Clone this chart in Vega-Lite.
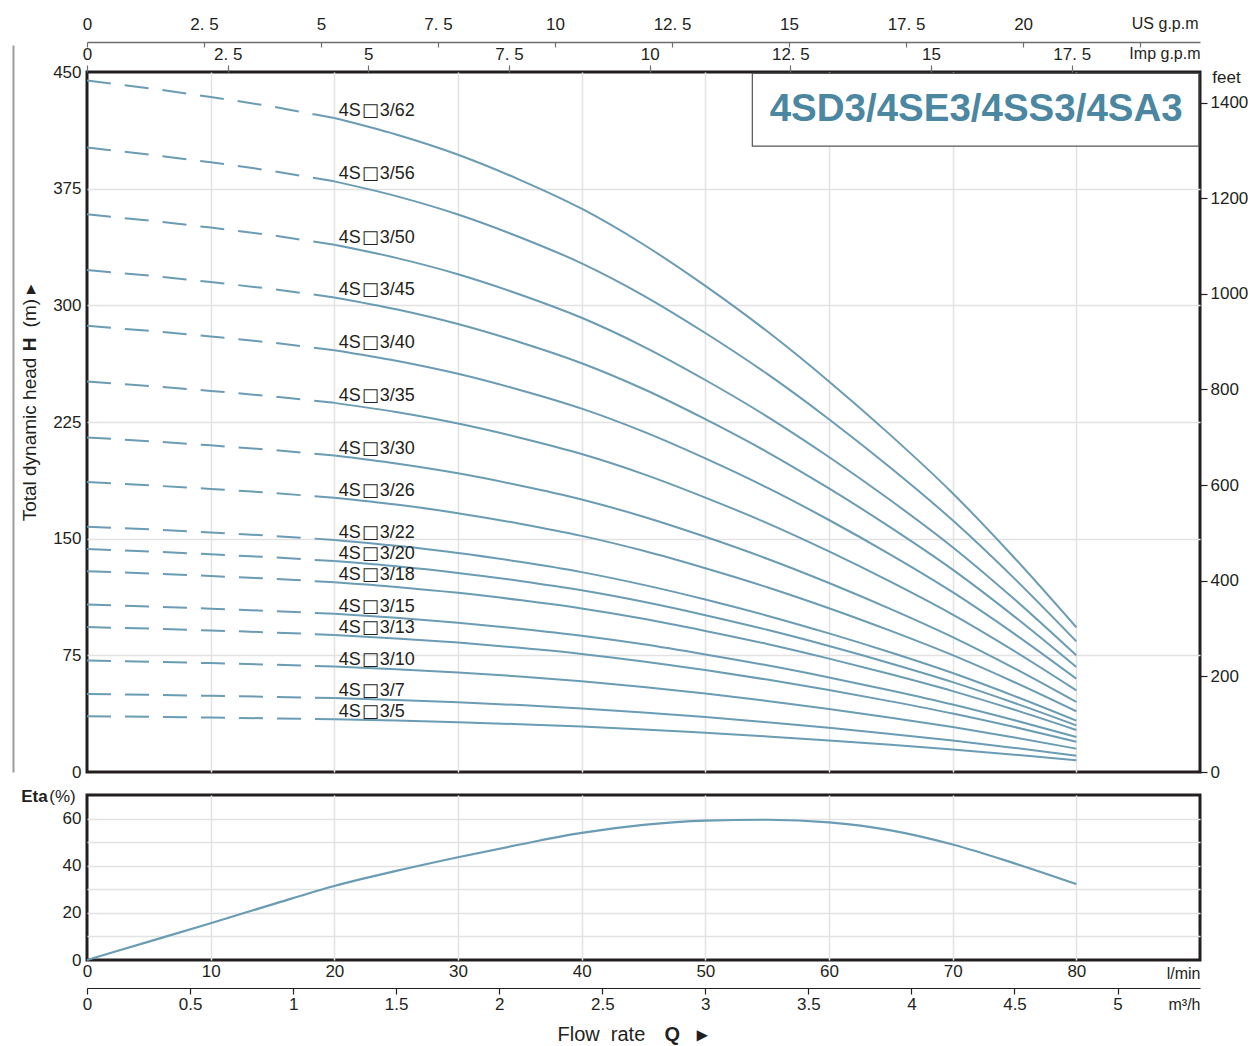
{
"$schema": "https://vega.github.io/schema/vega-lite/v6.json",
"padding": {"left": 11, "top": 13, "right": 4, "bottom": 4},
"background": "white",
"config": {
  "font": "Liberation Sans",
  "view": {"stroke": "#231f20", "strokeWidth": 3},
  "axis": {"labelFont": "Liberation Sans", "titleFont": "Liberation Sans", "labelFontSize": 17, "labelColor": "#231f20", "titleColor": "#231f20", "titleFontWeight": "normal", "titleFontSize": 17, "gridColor": "#e2e2e2", "gridWidth": 1.5, "domainColor": "#231f20", "tickColor": "#231f20", "labelFlush": false, "labelOverlap": false, "labelBound": false},
  "text": {"font": "Liberation Sans"}
},
"datasets": {
  "dummy": [{"v": 0}],
  "box": [{"Q": 53.8, "Q2": 89.9, "H": 402.4, "H2": 449.1}],
  "title": [{"Q": 71.9, "H": 426.5, "t": "4SD3/4SE3/4SS3/4SA3"}],
  "labels": [
    {"model": "4S□3/62", "num": "3/62", "Q": 20, "H": 420.4},
    {"model": "4S□3/56", "num": "3/56", "Q": 20, "H": 379.7},
    {"model": "4S□3/50", "num": "3/50", "Q": 20, "H": 339.0},
    {"model": "4S□3/45", "num": "3/45", "Q": 20, "H": 305.1},
    {"model": "4S□3/40", "num": "3/40", "Q": 20, "H": 271.2},
    {"model": "4S□3/35", "num": "3/35", "Q": 20, "H": 237.3},
    {"model": "4S□3/30", "num": "3/30", "Q": 20, "H": 203.4},
    {"model": "4S□3/26", "num": "3/26", "Q": 20, "H": 176.3},
    {"model": "4S□3/22", "num": "3/22", "Q": 20, "H": 149.2},
    {"model": "4S□3/20", "num": "3/20", "Q": 20, "H": 135.6},
    {"model": "4S□3/18", "num": "3/18", "Q": 20, "H": 122.0},
    {"model": "4S□3/15", "num": "3/15", "Q": 20, "H": 101.7},
    {"model": "4S□3/13", "num": "3/13", "Q": 20, "H": 88.1},
    {"model": "4S□3/10", "num": "3/10", "Q": 20, "H": 67.8},
    {"model": "4S□3/7", "num": "3/7", "Q": 20, "H": 47.5},
    {"model": "4S□3/5", "num": "3/5", "Q": 20, "H": 33.9}
  ],
  "eta": [
    {"Q": 0, "eta": 0}, {"Q": 5, "eta": 7.8}, {"Q": 10, "eta": 15.6}, {"Q": 15, "eta": 23.6}, {"Q": 20, "eta": 31.4}, {"Q": 25, "eta": 37.8}, {"Q": 30, "eta": 43.6}, {"Q": 35, "eta": 49.0}, {"Q": 40, "eta": 53.9}, {"Q": 45, "eta": 57.3}, {"Q": 50, "eta": 59.1}, {"Q": 55, "eta": 59.5}, {"Q": 60, "eta": 58.4}, {"Q": 65, "eta": 55.0}, {"Q": 70, "eta": 49.0}, {"Q": 75, "eta": 41.0}, {"Q": 80, "eta": 32.2}
  ],
  "pump": [
    {"n":62,"Q":0,"H":444.5},{"n":62,"Q":5,"H":439.6},{"n":62,"Q":10,"H":434.0},{"n":62,"Q":15,"H":427.8},{"n":62,"Q":20,"H":420.4},{"n":62,"Q":25,"H":409.8},{"n":62,"Q":30,"H":396.8},{"n":62,"Q":35,"H":380.7},{"n":62,"Q":40,"H":362.1},{"n":62,"Q":45,"H":339.1},{"n":62,"Q":50,"H":312.5},{"n":62,"Q":55,"H":283.3},{"n":62,"Q":60,"H":251.1},{"n":62,"Q":65,"H":216.4},{"n":62,"Q":70,"H":179.2},{"n":62,"Q":75,"H":137.6},{"n":62,"Q":80,"H":93.0},
    {"n":56,"Q":0,"H":401.5},{"n":56,"Q":5,"H":397.0},{"n":56,"Q":10,"H":392.0},{"n":56,"Q":15,"H":386.4},{"n":56,"Q":20,"H":379.7},{"n":56,"Q":25,"H":370.2},{"n":56,"Q":30,"H":358.4},{"n":56,"Q":35,"H":343.8},{"n":56,"Q":40,"H":327.0},{"n":56,"Q":45,"H":306.3},{"n":56,"Q":50,"H":282.2},{"n":56,"Q":55,"H":255.9},{"n":56,"Q":60,"H":226.8},{"n":56,"Q":65,"H":195.4},{"n":56,"Q":70,"H":161.8},{"n":56,"Q":75,"H":124.3},{"n":56,"Q":80,"H":84.0},
    {"n":50,"Q":0,"H":358.5},{"n":50,"Q":5,"H":354.5},{"n":50,"Q":10,"H":350.0},{"n":50,"Q":15,"H":345.0},{"n":50,"Q":20,"H":339.0},{"n":50,"Q":25,"H":330.5},{"n":50,"Q":30,"H":320.0},{"n":50,"Q":35,"H":307.0},{"n":50,"Q":40,"H":292.0},{"n":50,"Q":45,"H":273.5},{"n":50,"Q":50,"H":252.0},{"n":50,"Q":55,"H":228.5},{"n":50,"Q":60,"H":202.5},{"n":50,"Q":65,"H":174.5},{"n":50,"Q":70,"H":144.5},{"n":50,"Q":75,"H":111.0},{"n":50,"Q":80,"H":75.0},
    {"n":45,"Q":0,"H":322.7},{"n":45,"Q":5,"H":319.1},{"n":45,"Q":10,"H":315.0},{"n":45,"Q":15,"H":310.5},{"n":45,"Q":20,"H":305.1},{"n":45,"Q":25,"H":297.5},{"n":45,"Q":30,"H":288.0},{"n":45,"Q":35,"H":276.3},{"n":45,"Q":40,"H":262.8},{"n":45,"Q":45,"H":246.2},{"n":45,"Q":50,"H":226.8},{"n":45,"Q":55,"H":205.7},{"n":45,"Q":60,"H":182.3},{"n":45,"Q":65,"H":157.1},{"n":45,"Q":70,"H":130.1},{"n":45,"Q":75,"H":99.9},{"n":45,"Q":80,"H":67.5},
    {"n":40,"Q":0,"H":286.8},{"n":40,"Q":5,"H":283.6},{"n":40,"Q":10,"H":280.0},{"n":40,"Q":15,"H":276.0},{"n":40,"Q":20,"H":271.2},{"n":40,"Q":25,"H":264.4},{"n":40,"Q":30,"H":256.0},{"n":40,"Q":35,"H":245.6},{"n":40,"Q":40,"H":233.6},{"n":40,"Q":45,"H":218.8},{"n":40,"Q":50,"H":201.6},{"n":40,"Q":55,"H":182.8},{"n":40,"Q":60,"H":162.0},{"n":40,"Q":65,"H":139.6},{"n":40,"Q":70,"H":115.6},{"n":40,"Q":75,"H":88.8},{"n":40,"Q":80,"H":60.0},
    {"n":35,"Q":0,"H":251.0},{"n":35,"Q":5,"H":248.2},{"n":35,"Q":10,"H":245.0},{"n":35,"Q":15,"H":241.5},{"n":35,"Q":20,"H":237.3},{"n":35,"Q":25,"H":231.4},{"n":35,"Q":30,"H":224.0},{"n":35,"Q":35,"H":214.9},{"n":35,"Q":40,"H":204.4},{"n":35,"Q":45,"H":191.5},{"n":35,"Q":50,"H":176.4},{"n":35,"Q":55,"H":160.0},{"n":35,"Q":60,"H":141.8},{"n":35,"Q":65,"H":122.2},{"n":35,"Q":70,"H":101.2},{"n":35,"Q":75,"H":77.7},{"n":35,"Q":80,"H":52.5},
    {"n":30,"Q":0,"H":215.1},{"n":30,"Q":5,"H":212.7},{"n":30,"Q":10,"H":210.0},{"n":30,"Q":15,"H":207.0},{"n":30,"Q":20,"H":203.4},{"n":30,"Q":25,"H":198.3},{"n":30,"Q":30,"H":192.0},{"n":30,"Q":35,"H":184.2},{"n":30,"Q":40,"H":175.2},{"n":30,"Q":45,"H":164.1},{"n":30,"Q":50,"H":151.2},{"n":30,"Q":55,"H":137.1},{"n":30,"Q":60,"H":121.5},{"n":30,"Q":65,"H":104.7},{"n":30,"Q":70,"H":86.7},{"n":30,"Q":75,"H":66.6},{"n":30,"Q":80,"H":45.0},
    {"n":26,"Q":0,"H":186.4},{"n":26,"Q":5,"H":184.3},{"n":26,"Q":10,"H":182.0},{"n":26,"Q":15,"H":179.4},{"n":26,"Q":20,"H":176.3},{"n":26,"Q":25,"H":171.9},{"n":26,"Q":30,"H":166.4},{"n":26,"Q":35,"H":159.6},{"n":26,"Q":40,"H":151.8},{"n":26,"Q":45,"H":142.2},{"n":26,"Q":50,"H":131.0},{"n":26,"Q":55,"H":118.8},{"n":26,"Q":60,"H":105.3},{"n":26,"Q":65,"H":90.7},{"n":26,"Q":70,"H":75.1},{"n":26,"Q":75,"H":57.7},{"n":26,"Q":80,"H":39.0},
    {"n":22,"Q":0,"H":157.7},{"n":22,"Q":5,"H":156.0},{"n":22,"Q":10,"H":154.0},{"n":22,"Q":15,"H":151.8},{"n":22,"Q":20,"H":149.2},{"n":22,"Q":25,"H":145.4},{"n":22,"Q":30,"H":140.8},{"n":22,"Q":35,"H":135.1},{"n":22,"Q":40,"H":128.5},{"n":22,"Q":45,"H":120.3},{"n":22,"Q":50,"H":110.9},{"n":22,"Q":55,"H":100.5},{"n":22,"Q":60,"H":89.1},{"n":22,"Q":65,"H":76.8},{"n":22,"Q":70,"H":63.6},{"n":22,"Q":75,"H":48.8},{"n":22,"Q":80,"H":33.0},
    {"n":20,"Q":0,"H":143.4},{"n":20,"Q":5,"H":141.8},{"n":20,"Q":10,"H":140.0},{"n":20,"Q":15,"H":138.0},{"n":20,"Q":20,"H":135.6},{"n":20,"Q":25,"H":132.2},{"n":20,"Q":30,"H":128.0},{"n":20,"Q":35,"H":122.8},{"n":20,"Q":40,"H":116.8},{"n":20,"Q":45,"H":109.4},{"n":20,"Q":50,"H":100.8},{"n":20,"Q":55,"H":91.4},{"n":20,"Q":60,"H":81.0},{"n":20,"Q":65,"H":69.8},{"n":20,"Q":70,"H":57.8},{"n":20,"Q":75,"H":44.4},{"n":20,"Q":80,"H":30.0},
    {"n":18,"Q":0,"H":129.1},{"n":18,"Q":5,"H":127.6},{"n":18,"Q":10,"H":126.0},{"n":18,"Q":15,"H":124.2},{"n":18,"Q":20,"H":122.0},{"n":18,"Q":25,"H":119.0},{"n":18,"Q":30,"H":115.2},{"n":18,"Q":35,"H":110.5},{"n":18,"Q":40,"H":105.1},{"n":18,"Q":45,"H":98.5},{"n":18,"Q":50,"H":90.7},{"n":18,"Q":55,"H":82.3},{"n":18,"Q":60,"H":72.9},{"n":18,"Q":65,"H":62.8},{"n":18,"Q":70,"H":52.0},{"n":18,"Q":75,"H":40.0},{"n":18,"Q":80,"H":27.0},
    {"n":15,"Q":0,"H":107.6},{"n":15,"Q":5,"H":106.4},{"n":15,"Q":10,"H":105.0},{"n":15,"Q":15,"H":103.5},{"n":15,"Q":20,"H":101.7},{"n":15,"Q":25,"H":99.2},{"n":15,"Q":30,"H":96.0},{"n":15,"Q":35,"H":92.1},{"n":15,"Q":40,"H":87.6},{"n":15,"Q":45,"H":82.1},{"n":15,"Q":50,"H":75.6},{"n":15,"Q":55,"H":68.6},{"n":15,"Q":60,"H":60.8},{"n":15,"Q":65,"H":52.4},{"n":15,"Q":70,"H":43.4},{"n":15,"Q":75,"H":33.3},{"n":15,"Q":80,"H":22.5},
    {"n":13,"Q":0,"H":93.2},{"n":13,"Q":5,"H":92.2},{"n":13,"Q":10,"H":91.0},{"n":13,"Q":15,"H":89.7},{"n":13,"Q":20,"H":88.1},{"n":13,"Q":25,"H":85.9},{"n":13,"Q":30,"H":83.2},{"n":13,"Q":35,"H":79.8},{"n":13,"Q":40,"H":75.9},{"n":13,"Q":45,"H":71.1},{"n":13,"Q":50,"H":65.5},{"n":13,"Q":55,"H":59.4},{"n":13,"Q":60,"H":52.7},{"n":13,"Q":65,"H":45.4},{"n":13,"Q":70,"H":37.6},{"n":13,"Q":75,"H":28.9},{"n":13,"Q":80,"H":19.5},
    {"n":10,"Q":0,"H":71.7},{"n":10,"Q":5,"H":70.9},{"n":10,"Q":10,"H":70.0},{"n":10,"Q":15,"H":69.0},{"n":10,"Q":20,"H":67.8},{"n":10,"Q":25,"H":66.1},{"n":10,"Q":30,"H":64.0},{"n":10,"Q":35,"H":61.4},{"n":10,"Q":40,"H":58.4},{"n":10,"Q":45,"H":54.7},{"n":10,"Q":50,"H":50.4},{"n":10,"Q":55,"H":45.7},{"n":10,"Q":60,"H":40.5},{"n":10,"Q":65,"H":34.9},{"n":10,"Q":70,"H":28.9},{"n":10,"Q":75,"H":22.2},{"n":10,"Q":80,"H":15.0},
    {"n":7,"Q":0,"H":50.2},{"n":7,"Q":5,"H":49.6},{"n":7,"Q":10,"H":49.0},{"n":7,"Q":15,"H":48.3},{"n":7,"Q":20,"H":47.5},{"n":7,"Q":25,"H":46.3},{"n":7,"Q":30,"H":44.8},{"n":7,"Q":35,"H":43.0},{"n":7,"Q":40,"H":40.9},{"n":7,"Q":45,"H":38.3},{"n":7,"Q":50,"H":35.3},{"n":7,"Q":55,"H":32.0},{"n":7,"Q":60,"H":28.4},{"n":7,"Q":65,"H":24.4},{"n":7,"Q":70,"H":20.2},{"n":7,"Q":75,"H":15.5},{"n":7,"Q":80,"H":10.5},
    {"n":5,"Q":0,"H":35.9},{"n":5,"Q":5,"H":35.5},{"n":5,"Q":10,"H":35.0},{"n":5,"Q":15,"H":34.5},{"n":5,"Q":20,"H":33.9},{"n":5,"Q":25,"H":33.1},{"n":5,"Q":30,"H":32.0},{"n":5,"Q":35,"H":30.7},{"n":5,"Q":40,"H":29.2},{"n":5,"Q":45,"H":27.4},{"n":5,"Q":50,"H":25.2},{"n":5,"Q":55,"H":22.9},{"n":5,"Q":60,"H":20.3},{"n":5,"Q":65,"H":17.5},{"n":5,"Q":70,"H":14.5},{"n":5,"Q":75,"H":11.1},{"n":5,"Q":80,"H":7.5}
  ]
},
"spacing": 23,
"bounds": "flush",
"vconcat": [
  {
    "width": 1113,
    "height": 700,
    "layer": [
      {
        "data": {"name": "box"},
        "mark": {"type": "rect", "fill": "white", "stroke": "#555555", "strokeWidth": 1.2},
        "encoding": {
          "x": {"field": "Q", "type": "quantitative", "scale": {"domain": [0, 90], "nice": false},
                "axis": {"orient": "bottom", "values": [10, 20, 30, 40, 50, 60, 70, 80], "grid": true, "labels": false, "ticks": false, "domain": false, "title": null}},
          "x2": {"field": "Q2"},
          "y": {"field": "H", "type": "quantitative", "scale": {"domain": [0, 450], "nice": false},
                "axis": {"values": [0, 75, 150, 225, 300, 375, 450], "grid": false, "ticks": false, "domain": false, "labelPadding": 6, "title": "Total dynamic head", "titleFontSize": 19, "titleX": -58, "titleY": 367, "titleAngle": -90, "titleAlign": "center", "titleBaseline": "middle"}},
          "y2": {"field": "H2"}
        }
      },
      {
        "data": {"name": "title"},
        "mark": {"type": "text", "fontSize": 38.5, "fontWeight": "bold", "color": "#4b87a1", "align": "center", "baseline": "middle"},
        "encoding": {
          "x": {"field": "Q", "type": "quantitative", "scale": {"domain": [0, 90], "nice": false}, "axis": null},
          "y": {"field": "H", "type": "quantitative", "scale": {"domain": [0, 450], "nice": false}, "axis": null},
          "text": {"field": "t"}
        }
      },
      {
        "data": {"name": "pump"},
        "transform": [{"filter": "datum.Q <= 20"}],
        "mark": {"type": "line", "strokeDash": [24, 14], "strokeWidth": 2, "color": "#6a9cb4"},
        "encoding": {
          "x": {"field": "Q", "type": "quantitative", "scale": {"domain": [0, 90], "nice": false}, "axis": null},
          "y": {"field": "H", "type": "quantitative", "scale": {"domain": [0, 450], "nice": false}, "axis": null},
          "detail": {"field": "n", "type": "nominal"}
        }
      },
      {
        "data": {"name": "pump"},
        "transform": [{"filter": "datum.Q >= 20"}],
        "mark": {"type": "line", "interpolate": "monotone", "strokeWidth": 2, "color": "#6a9cb4"},
        "encoding": {
          "x": {"field": "Q", "type": "quantitative", "scale": {"domain": [0, 90], "nice": false}, "axis": null},
          "y": {"field": "H", "type": "quantitative", "scale": {"domain": [0, 450], "nice": false}, "axis": null},
          "detail": {"field": "n", "type": "nominal"}
        }
      },
      {
        "data": {"name": "labels"},
        "mark": {"type": "text", "text": "4S", "align": "left", "baseline": "alphabetic", "dx": 4.5, "dy": -2, "fontSize": 18, "color": "#231f20"},
        "encoding": {
          "x": {"field": "Q", "type": "quantitative", "scale": {"domain": [0, 90], "nice": false}, "axis": null},
          "y": {"field": "H", "type": "quantitative", "scale": {"domain": [0, 450], "nice": false}, "axis": null}
        }
      },
      {
        "data": {"name": "labels"},
        "mark": {"type": "text", "text": "□", "font": "DejaVu Sans", "align": "left", "baseline": "alphabetic", "dx": 27.5, "dy": -2, "fontSize": 18, "color": "#231f20"},
        "encoding": {
          "x": {"field": "Q", "type": "quantitative", "scale": {"domain": [0, 90], "nice": false}, "axis": null},
          "y": {"field": "H", "type": "quantitative", "scale": {"domain": [0, 450], "nice": false}, "axis": null}
        }
      },
      {
        "data": {"name": "labels"},
        "mark": {"type": "text", "align": "left", "baseline": "alphabetic", "dx": 45.5, "dy": -2, "fontSize": 18, "color": "#231f20"},
        "encoding": {
          "x": {"field": "Q", "type": "quantitative", "scale": {"domain": [0, 90], "nice": false}, "axis": null},
          "y": {"field": "H", "type": "quantitative", "scale": {"domain": [0, 450], "nice": false}, "axis": null},
          "text": {"field": "num"}
        }
      },
      {
        "data": {"name": "dummy"},
        "mark": {"type": "point", "opacity": 0},
        "encoding": {
          "x": {"field": "v", "type": "quantitative", "scale": {"domain": [0, 23.78], "nice": false},
                "axis": {"orient": "top", "offset": 30, "values": [0, 2.5, 5, 7.5, 10, 12.5, 15, 17.5, 20, 22.5], "grid": false, "domainColor": "#6d6e70", "domainWidth": 1.5, "tickColor": "#6d6e70", "tickWidth": 1.2, "tickSize": -5, "labelPadding": 14, "labelExpr": "datum.value == 22.5 ? '' : replace(format(datum.value, '~g'), '.', '. ')", "title": "US g.p.m", "titleFontSize": 16, "titleX": 1111, "titleY": -19, "titleAlign": "right", "titleBaseline": "middle", "titleAngle": 0}},
          "y": {"field": "v", "type": "quantitative", "scale": {"domain": [0, 1]}, "axis": null}
        }
      },
      {
        "data": {"name": "dummy"},
        "mark": {"type": "point", "opacity": 0},
        "encoding": {
          "x": {"field": "v", "type": "quantitative", "scale": {"domain": [0, 19.78], "nice": false},
                "axis": {"orient": "top", "offset": 0, "values": [0, 2.5, 5, 7.5, 10, 12.5, 15, 17.5], "grid": false, "domain": false, "tickColor": "#6d6e70", "tickWidth": 1.2, "tickSize": 7, "labelPadding": 2, "labelExpr": "replace(format(datum.value, '~g'), '.', '. ')", "title": "Imp g.p.m", "titleFontSize": 16, "titleX": 1113, "titleY": -19, "titleAlign": "right", "titleBaseline": "middle", "titleAngle": 0}},
          "y": {"field": "v", "type": "quantitative", "scale": {"domain": [0, 1]}, "axis": null}
        }
      },
      {
        "data": {"name": "dummy"},
        "mark": {"type": "point", "opacity": 0},
        "encoding": {
          "x": {"field": "v", "type": "quantitative", "scale": {"domain": [0, 1]}, "axis": null},
          "y": {"field": "v", "type": "quantitative", "scale": {"domain": [0, 1464], "nice": false},
                "axis": {"orient": "right", "values": [0, 200, 400, 600, 800, 1000, 1200, 1400], "format": "d", "grid": false, "domain": false, "tickSize": 7, "tickWidth": 1.2, "labelPadding": 3, "title": "feet", "titleFontSize": 17, "titleX": 26, "titleY": 5, "titleAngle": 0, "titleAlign": "center", "titleBaseline": "middle"}}
        }
      },
      {
        "data": {"name": "dummy"},
        "mark": {"type": "point", "opacity": 0},
        "encoding": {
          "x": {"field": "v", "type": "quantitative", "scale": {"domain": [0, 1]}, "axis": null},
          "y": {"field": "v", "type": "quantitative", "scale": {"domain": [0, 1], "nice": false, "range": [700, -27]},
                "axis": {"orient": "left", "offset": 74, "domainColor": "#9d9d9d", "domainWidth": 2, "labels": false, "ticks": false, "grid": false, "title": "H", "titleFontWeight": "bold", "titleFontSize": 19, "titleX": 16, "titleY": 272, "titleAngle": -90, "titleAlign": "center", "titleBaseline": "middle"}}
        }
      },
      {
        "data": {"name": "dummy"},
        "mark": {"type": "point", "opacity": 0},
        "encoding": {
          "x": {"field": "v", "type": "quantitative", "scale": {"domain": [0, 1]}, "axis": null},
          "y": {"field": "v", "type": "quantitative", "scale": {"domain": [0, 450], "nice": false},
                "axis": {"orient": "left", "values": [75, 150, 225, 300, 375], "grid": true, "labels": false, "ticks": false, "domain": false, "title": "(m) ▸", "titleFontSize": 19, "titleX": -58, "titleY": 233, "titleAngle": -90, "titleAlign": "center", "titleBaseline": "middle"}}
        }
      }
    ],
    "resolve": {"scale": {"x": "independent", "y": "independent"}}
  },
  {
    "width": 1113,
    "height": 165,
    "layer": [
      {
        "data": {"name": "eta"},
        "mark": {"type": "line", "interpolate": "monotone", "strokeWidth": 2.2, "color": "#6a9cb4"},
        "encoding": {
          "x": {"field": "Q", "type": "quantitative", "scale": {"domain": [0, 90], "nice": false},
                "axis": {"values": [0, 10, 20, 30, 40, 50, 60, 70, 80], "grid": false, "ticks": false, "domain": false, "labelPadding": 3, "title": "l/min", "titleFontSize": 16, "titleX": 1113, "titleY": 13, "titleAlign": "right", "titleBaseline": "middle", "titleAngle": 0}},
          "y": {"field": "eta", "type": "quantitative", "scale": {"domain": [0, 70], "nice": false},
                "axis": {"values": [0, 20, 40, 60], "grid": false, "ticks": false, "domain": false, "labelPadding": 6, "title": "Eta", "titleFontWeight": "bold", "titleFontSize": 17, "titleX": -53, "titleY": 1, "titleAngle": 0, "titleAlign": "center", "titleBaseline": "middle"}}
        }
      },
      {
        "data": {"name": "dummy"},
        "mark": {"type": "point", "opacity": 0},
        "encoding": {
          "x": {"field": "v", "type": "quantitative", "scale": {"domain": [0, 5.4], "nice": false},
                "axis": {"orient": "bottom", "offset": 28, "values": [0, 0.5, 1, 1.5, 2, 2.5, 3, 3.5, 4, 4.5, 5], "grid": false, "domainColor": "#231f20", "domainWidth": 1.2, "tickSize": 6, "tickWidth": 1.2, "labelPadding": 2, "labelExpr": "format(datum.value, '~g')", "title": "m³/h", "titleFontSize": 16, "titleX": 1113, "titleY": 16, "titleAlign": "right", "titleBaseline": "middle", "titleAngle": 0}},
          "y": {"field": "v", "type": "quantitative", "scale": {"domain": [0, 1]}, "axis": null}
        }
      },
      {
        "data": {"name": "dummy"},
        "mark": {"type": "point", "opacity": 0},
        "encoding": {
          "x": {"field": "v", "type": "quantitative", "scale": {"domain": [0, 90], "nice": false},
                "axis": {"orient": "bottom", "values": [10, 20, 30, 40, 50, 60, 70, 80], "grid": true, "labels": false, "ticks": false, "domain": false, "title": "Flow\u00a0\u00a0rate", "titleFontSize": 20, "titleX": 470, "titleY": 74, "titleAlign": "left", "titleBaseline": "middle", "titleAngle": 0}},
          "y": {"field": "v", "type": "quantitative", "scale": {"domain": [0, 1]}, "axis": null}
        }
      },
      {
        "data": {"name": "dummy"},
        "mark": {"type": "point", "opacity": 0},
        "encoding": {
          "x": {"field": "v", "type": "quantitative", "scale": {"domain": [0, 90], "nice": false},
                "axis": {"orient": "bottom", "labels": false, "ticks": false, "domain": false, "grid": false, "title": "Q\u00a0\u00a0\u00a0▸", "titleFontWeight": "bold", "titleFontSize": 20, "titleX": 577, "titleY": 74, "titleAlign": "left", "titleBaseline": "middle", "titleAngle": 0}},
          "y": {"field": "v", "type": "quantitative", "scale": {"domain": [0, 1]}, "axis": null}
        }
      },
      {
        "data": {"name": "dummy"},
        "mark": {"type": "point", "opacity": 0},
        "encoding": {
          "x": {"field": "v", "type": "quantitative", "scale": {"domain": [0, 1]}, "axis": null},
          "y": {"field": "v", "type": "quantitative", "scale": {"domain": [0, 70], "nice": false},
                "axis": {"orient": "left", "values": [10, 20, 30, 40, 50, 60], "grid": true, "labels": false, "ticks": false, "domain": false, "title": "(%)", "titleFontSize": 17, "titleX": -25, "titleY": 1, "titleAngle": 0, "titleAlign": "center", "titleBaseline": "middle"}}
        }
      }
    ],
    "resolve": {"scale": {"x": "independent", "y": "independent"}}
  }
]
}
